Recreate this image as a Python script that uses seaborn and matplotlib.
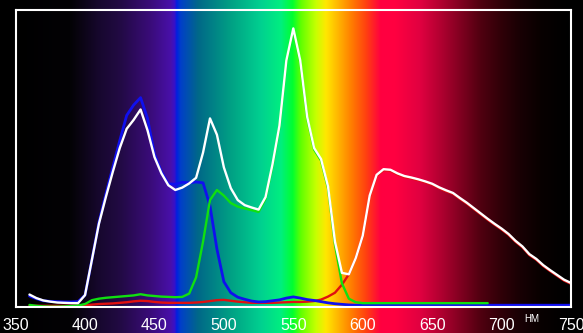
import numpy as np
import pandas as pd
import matplotlib
matplotlib.use("Agg")
import matplotlib.pyplot as plt
from matplotlib.colors import LinearSegmentedColormap
import seaborn as sns

# ---------------- data ----------------
wavelength = list(range(360, 755, 5))

white = [4.2, 3.0, 2.2, 1.8, 1.5, 1.4, 1.3, 1.3, 4.0, 16, 28, 37, 45.5, 53.5, 60, 63,
         66.5, 59.5, 50.5, 45, 41, 39.4, 40.2, 41.6, 43.5, 52, 63.5, 58, 47, 40, 36, 34.3,
         33.5, 32.8, 37, 48, 61, 83, 93.8, 83, 64, 53.5, 49.8, 40.6, 22, 11.5, 11, 16.5,
         24, 37.5, 44.5, 46.4, 46.2, 45, 44.1, 43.6, 43, 42.3, 41.5, 40.3, 39.3, 38.4, 36.7,
         35.1, 33.3, 31.5, 29.7, 28, 26.4, 24.6, 22.3, 20.4, 17.8, 16.2, 14.1, 12.4, 10.8,
         9.2, 8.1]

blue = [3.7, 2.8, 2.1, 1.9, 1.8, 1.7, 1.7, 1.8, 4.0, 16, 28.5, 38, 47, 56, 64.5, 68,
        70.5, 63.5, 51.5, 45.5, 41.5, 41.3, 42, 41.8, 42.1, 41.8, 34, 19.5, 8.5, 4.8, 3.3,
        2.6, 2.0, 1.7, 1.8, 2.1, 2.4, 3.0, 3.4, 3.0, 2.5, 2.2, 1.8, 1.4, 1.1, 0.9, 0.7,
        0.6, 0.6, 0.6, 0.6, 0.6, 0.6, 0.6, 0.6, 0.6, 0.6, 0.6, 0.6, 0.6, 0.6, 0.6, 0.6,
        0.6, 0.6, 0.6, 0.6, 0.6, 0.6, 0.6, 0.6, 0.6, 0.6, 0.6, 0.6, 0.6, 0.6, 0.6, 0.6]

green = [0.7, 0.4, 0.2, 0.1, 0.1, 0.2, 0.3, 0.5, 1.0, 2.3, 2.8, 3.1, 3.3, 3.5, 3.7, 3.9,
         4.3, 3.9, 3.7, 3.5, 3.4, 3.3, 3.4, 4.5, 10, 22, 36, 39.4, 37.5, 35, 33.8, 33.2,
         32.6, 32.0, 36.5, 47.5, 60.5, 82.5, 93.3, 82.5, 63.5, 53, 49.3, 40, 21, 8, 2.8,
         1.6, 1.3, 1.3, 1.3, 1.3, 1.3, 1.3, 1.3, 1.3, 1.3, 1.3, 1.3, 1.3, 1.3, 1.3, 1.3,
         1.3, 1.3, 1.3, 1.3, np.nan, np.nan, np.nan, np.nan, np.nan, np.nan, np.nan, np.nan,
         np.nan, np.nan, np.nan, np.nan]

red = [0.4, 0.4, 0.4, 0.4, 0.4, 0.4, 0.4, 0.4, 0.6, 0.8, 1.0, 1.1, 1.2, 1.4, 1.6, 1.9,
       2.1, 2.0, 1.7, 1.5, 1.4, 1.4, 1.4, 1.4, 1.5, 1.7, 2.0, 2.3, 2.4, 2.1, 1.8, 1.6,
       1.4, 1.4, 1.4, 1.4, 1.5, 1.6, 1.7, 1.7, 1.8, 2.0, 2.5, 3.5, 4.8, 7.5, 11, 16.5,
       23.7, 37.2, 44.2, 46.1, 45.9, 44.7, 43.8, 43.3, 42.7, 42.0, 41.2, 40.0, 39.0, 38.1,
       36.4, 34.8, 33.0, 31.2, 29.4, 27.7, 26.1, 24.3, 22.0, 20.1, 17.5, 15.9, 13.8, 12.1,
       10.5, 8.9, 7.8]

tick_values = [350, 400, 450, 500, 550, 600, 650, 700, 750]
unit_label = "НМ"

# background spectrum colour stops (wavelength nm, colour)
spec_nm = [350, 389, 396, 411, 425, 447, 461, 464, 465.6, 468.5, 481, 504.5, 526, 540.5,
           549, 555, 566, 573, 580, 591, 602, 612.5, 623, 641, 656, 670, 684.5, 699, 713,
           728, 742, 750]
spec_col = ["#000000", "#030205", "#0a0412", "#180830", "#220a44", "#3a0c7a", "#4810a8",
            "#3a10c8", "#0020e0", "#0040c8", "#006888", "#00a084", "#00d090", "#00ee80",
            "#00ff30", "#60ff00", "#c8ff00", "#ffe800", "#ffc000", "#ff8000", "#ff4010",
            "#ff0040", "#ff0040", "#e00040", "#b00030", "#800020", "#500010", "#300008",
            "#180004", "#080000", "#020000", "#000000"]

# ---------------- figure ----------------
sns.set_style("dark")
plt.rcParams["font.family"] = ["Liberation Sans Narrow", "Liberation Sans", "DejaVu Sans"]

W, H = 583, 333
fig = plt.figure(figsize=(W / 100, H / 100), dpi=100, facecolor="black")
x0, x1 = 15.6, 571
ytop, ybot = 10, 307
ax = fig.add_axes([x0 / W, (H - ybot) / H, (x1 - x0) / W, (ybot - ytop) / H])
ax.set_facecolor("none")

# rainbow background
lo, hi = 350, 750
pos = [(v - lo) / (hi - lo) for v in spec_nm]
cmap = LinearSegmentedColormap.from_list("spec", list(zip(pos, spec_col)), N=1024)
grad = np.linspace(0, 1, 1024)[None, :]
ymin, ymax = 0, 100
units_per_px = (ymax - ymin) / (ybot - ytop)
ax.imshow(grad, cmap=cmap, aspect="auto", interpolation="bilinear",
          extent=[lo, hi, ymin - (H - ybot) * units_per_px, ymax + ytop * units_per_px],
          clip_on=False, zorder=0)

df = pd.DataFrame({"nm": wavelength, "white": white, "blue": blue,
                   "green": green, "red": red})

lw = 1.7
sns.lineplot(data=df, x="nm", y="red", color="#e01010", lw=lw, ax=ax,
             estimator=None, errorbar=None, zorder=3)
sns.lineplot(data=df, x="nm", y="blue", color="#1010ee", lw=lw + 0.3, ax=ax,
             estimator=None, errorbar=None, zorder=4)
sns.lineplot(data=df, x="nm", y="green", color="#10e010", lw=lw, ax=ax,
             estimator=None, errorbar=None, zorder=5)
sns.lineplot(data=df, x="nm", y="white", color="white", lw=lw, ax=ax,
             estimator=None, errorbar=None, zorder=6)

ax.set_xlim(lo, hi)
ax.set_ylim(ymin, ymax)
ax.set_xticks(tick_values)
ax.set_xticklabels([str(t) for t in tick_values])
ax.set_yticks([])
ax.set_xlabel("")
ax.set_ylabel("")
ax.grid(False)
ax.tick_params(axis="x", direction="out", length=4, width=1, color="white",
               labelcolor="white", labelsize=11.5, pad=4)
for s in ax.spines.values():
    s.set_visible(True)
    s.set_color("white")
    s.set_linewidth(1.5)
    s.set_zorder(7)

fig.text(532 / W, 1 - 319 / H, unit_label, color="white", fontsize=7,
         ha="center", va="center")

fig.savefig("out.png", dpi=100, facecolor="black")
